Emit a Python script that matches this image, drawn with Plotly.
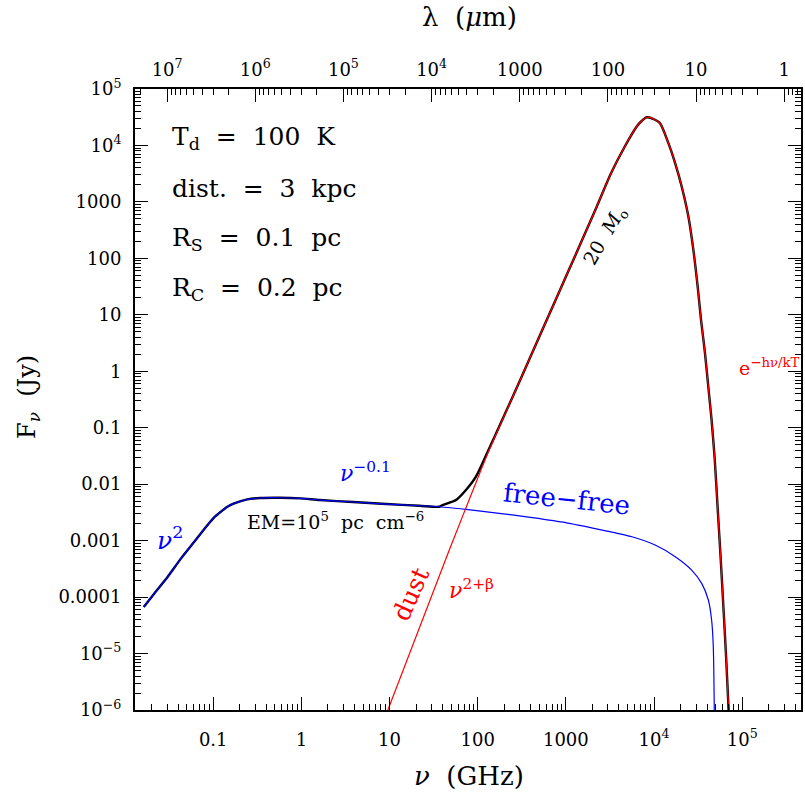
import math
import plotly.graph_objects as go

# ---------------- data ----------------
# free-free (blue): frequency in GHz, flux density in Jy
ff_nu = [0.0163, 0.0215, 0.0305, 0.0432, 0.061, 0.0863, 0.1026, 0.122, 0.145, 0.173, 0.244, 0.34,
         0.571, 0.962, 1.62, 3.85, 9.19, 21.8, 36.7, 73.6, 175, 416, 993, 2360,
         5610, 10300, 17400, 26700, 34700, 41300, 45000, 47000, 48300]
ff_flux = [6.7e-5, 1.16e-4, 2.29e-4, 4.85e-4, 9.55e-4, 1.89e-3, 2.59e-3, 3.25e-3, 3.98e-3, 4.58e-3, 5.39e-3, 5.69e-3,
           5.75e-3, 5.61e-3, 5.24e-3, 4.83e-3, 4.45e-3, 4.15e-3, 3.98e-3, 3.58e-3, 3.05e-3, 2.55e-3, 2.08e-3, 1.58e-3,
           1.17e-3, 8.36e-4, 5.19e-4, 3.01e-4, 1.75e-4, 8.87e-5, 3.92e-5, 1.32e-5, 8e-7]

# dust (red)
dust_nu = [9.38, 47.6, 109, 135, 190.5, 270, 382, 540, 765, 1081, 1528, 2239, 3251, 4645,
           6340, 7280, 8300, 10140, 11700, 14590, 17380, 20620, 24550, 27940, 31260, 34140, 37860,
           41260, 44980, 48870, 52840, 57150, 61480, 65960, 70300]
dust_flux = [9.2e-7, 6.81e-4, 0.0178, 0.0403, 0.137, 0.466, 1.58, 5.38, 18.3, 62.2, 211, 822, 3210, 9500,
             2.15e4, 2.74e4, 3.16e4, 2.88e4, 2.47e4, 1.09e4, 4830, 1860, 547, 141, 31.5, 8.09, 2.08,
             0.532, 0.137, 0.0268, 3.48e-3, 4.53e-4, 5.9e-5, 7.7e-6, 9.2e-7]

# total (black) where it departs from both components
knee_nu = [40.0, 56.8, 73.6, 95.5, 135, 190.5]
knee_flux = [4.28e-3, 5.24e-3, 7.87e-3, 0.01355, 0.043, 0.140]

# tick values / labels
nu_ticks = [0.1, 1, 10, 100, 1000, 1e4, 1e5]
nu_ticktext = ["0.1", "1", "10", "100", "1000", "10<sup>4</sup>", "10<sup>5</sup>"]
flux_ticks = [1e-6, 1e-5, 1e-4, 1e-3, 1e-2, 0.1, 1, 10, 100, 1000, 1e4, 1e5]
flux_ticktext = ["10<sup>−6</sup>", "10<sup>−5</sup>", "0.0001", "0.001", "0.01", "0.1",
                 "1", "10", "100", "1000", "10<sup>4</sup>", "10<sup>5</sup>"]
lam_ticks = [1e7, 1e6, 1e5, 1e4, 1000, 100, 10, 1]
lam_ticktext = ["10<sup>7</sup>", "10<sup>6</sup>", "10<sup>5</sup>", "10<sup>4</sup>",
                "1000", "100", "10", "1"]

# ---------------- build total curve from the arrays ----------------
n_ff = sum(1 for v in ff_nu if v < knee_nu[0])
n_d = sum(1 for v in dust_nu if v <= knee_nu[-1])
total_nu = ff_nu[:n_ff] + knee_nu + dust_nu[n_d:]
total_flux = ff_flux[:n_ff] + knee_flux + dust_flux[n_d:]

C_UM_GHZ = 299792.458  # lambda[um] = C / nu[GHz]
x0, x1 = math.log10(0.01297), math.log10(4.645e5)
lam_range = [math.log10(C_UM_GHZ) - x0, math.log10(C_UM_GHZ) - x1]


def minor_vals(lo, hi):
    return [m * 10.0 ** k for k in range(lo, hi) for m in range(2, 10)]


FONT = "DejaVu Serif"
fig = go.Figure()
fig.add_trace(go.Scatter(x=total_nu, y=total_flux, mode="lines",
                         line=dict(color="black", width=2.4, shape="spline", smoothing=0.7),
                         hoverinfo="skip", showlegend=False))
fig.add_trace(go.Scatter(x=ff_nu, y=ff_flux, mode="lines",
                         line=dict(color="#0000ff", width=1.2, shape="spline", smoothing=0.7),
                         hoverinfo="skip", showlegend=False))
fig.add_trace(go.Scatter(x=dust_nu, y=dust_flux, mode="lines",
                         line=dict(color="#ff0000", width=1.2, shape="spline", smoothing=0.7),
                         hoverinfo="skip", showlegend=False))
# invisible trace to activate the top wavelength axis
fig.add_trace(go.Scatter(x=[1e3], y=[1], xaxis="x2", mode="markers",
                         marker=dict(opacity=0), hoverinfo="skip", showlegend=False))

W, H = 805, 803
L, R, T, B = 134.5, 803, 89, 710  # plot frame in page pixels


def P(px, py):
    return (px - L) / (R - L), (B - py) / (B - T)


ann = []


def add(text, px, py, size, color="black", angle=0, xanchor="center"):
    x, y = P(px, py)
    ann.append(dict(text=text, x=x, y=y, xref="paper", yref="paper", showarrow=False,
                    xanchor=xanchor, yanchor="middle", textangle=angle,
                    font=dict(family=FONT, size=size, color=color)))


add("T<sub>d</sub>  =  100  K", 170, 138, 25, xanchor="left")
add("dist.  =  3  kpc", 170, 188, 25, xanchor="left")
add("R<sub>S</sub>  =  0.1  pc", 170, 239, 25, xanchor="left")
add("R<sub>C</sub>  =  0.2  pc", 170, 289, 25, xanchor="left")
add("<i>ν</i><sup>2</sup>", 170, 538, 25, color="#0000ff")
add("<i>ν</i><sup>−0.1</sup>", 366, 472, 22, color="#0000ff")
add("EM=10<sup>5</sup>  pc  cm<sup>−6</sup>", 336, 521, 19)
add("free−free", 568, 499, 26, color="#0000ff", angle=6)
add("dust", 411, 594, 25, color="#ff0000", angle=-66)
add("<i>ν</i><sup>2+β</sup>", 472, 589, 22, color="#ff0000")
add("20  <i>M</i><sub>o</sub>", 606, 236, 19, angle=-60)
add("e<sup>−hν/kT</sup>", 739, 367, 19, color="#ff0000", xanchor="left")
add("<i>ν</i>  (GHz)", 470, 776, 26)
add("λ  (<i>μ</i>m)", 470, 17, 26)
add("F<sub><i>ν</i></sub>  (Jy)", 27, 397, 24, angle=-90)

tickfont = dict(family=FONT, size=18, color="black")
common = dict(type="log", showgrid=False, zeroline=False, ticks="inside", ticklen=13,
              tickwidth=1, tickcolor="black", showline=True, linecolor="black",
              linewidth=2, tickfont=tickfont)

fig.update_layout(
    width=W, height=H, paper_bgcolor="white", plot_bgcolor="white",
    margin=dict(l=L, r=W - R, t=T, b=H - B),
    xaxis=dict(range=[x0, x1], tickvals=nu_ticks, ticktext=nu_ticktext,
               minor=dict(tickvals=minor_vals(-2, 6), ticks="inside", ticklen=6,
                          tickcolor="black", tickwidth=1),
               ticklabelstandoff=12, mirror=False, **common),
    xaxis2=dict(range=lam_range, overlaying="x", side="top", tickvals=lam_ticks,
                ticktext=lam_ticktext,
                minor=dict(tickvals=minor_vals(-1, 8), ticks="inside", ticklen=6,
                           tickcolor="black", tickwidth=1),
                ticklabelstandoff=4, **common),
    yaxis=dict(range=[-6, 5], tickvals=flux_ticks, ticktext=flux_ticktext,
               minor=dict(tickvals=minor_vals(-6, 5), ticks="inside", ticklen=6,
                          tickcolor="black", tickwidth=1),
               ticklabelstandoff=8, mirror="ticks", **common),
    annotations=ann,
)

# place the figure at the page's top-left corner (no default body margin / scrollbars)
fig.write_html("out.html",
               config={"displayModeBar": False},
               post_script="document.body.style.margin='0';document.body.style.overflow='hidden';")
